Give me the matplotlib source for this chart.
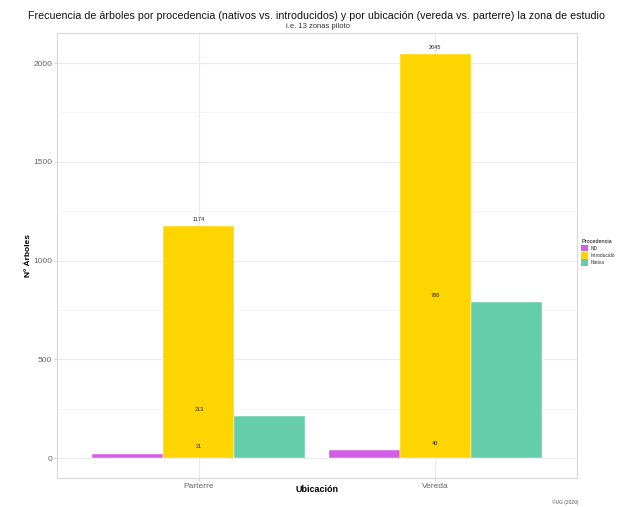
import matplotlib
matplotlib.use("Agg")
import matplotlib.pyplot as plt
from matplotlib.ticker import MultipleLocator
from matplotlib.patches import Patch
import numpy as np

plt.rcParams['font.family'] = ['Liberation Sans', 'DejaVu Sans']

categories = ["Parterre", "Vereda"]
series = ["ND", "Introducido", "Nativa"]
nd = [21, 40]
introducido = [1174, 2045]
nativa = [213, 788]
colors = ["#D35FE6", "#FFD500", "#66CDAA"]

fig = plt.figure(figsize=(6.19, 5.07), dpi=100)
W, H = 619, 507
ax = fig.add_axes([57 / W, (H - 478) / H, (577 - 57) / W, (478 - 33) / H])

x = np.arange(len(categories))
width = 0.3
vals = [nd, introducido, nativa]
for i, (s, v, c) in enumerate(zip(series, vals, colors)):
    ax.bar(x + (i - 1) * width, v, width=width, color=c, edgecolor="white",
           linewidth=0.3, zorder=3, label=s)

# labels at category center
for vs in vals:
    for xi, v in zip(x, vs):
        ax.annotate(str(v), (xi, v), xytext=(0, 5), textcoords="offset points",
                    ha="center", va="center", fontsize=4, color="#222222", zorder=4)

ax.set_xlim(-0.6, 1.6)
ax.set_ylim(-101, 2152)
ax.set_xticks(x)
ax.set_xticklabels(categories)
ax.yaxis.set_major_locator(MultipleLocator(500))
ax.yaxis.set_minor_locator(MultipleLocator(250))
ax.grid(which="major", color="#EBEBEB", linewidth=0.8, zorder=0)
ax.grid(which="minor", axis="y", color="#F3F3F3", linewidth=0.5, zorder=0)
ax.set_axisbelow(True)
for sp in ax.spines.values():
    sp.set_color("#D9D9D9")
    sp.set_linewidth(0.8)
ax.tick_params(which="major", colors="#CCCCCC", labelcolor="#666666", labelsize=6,
               length=2.2, width=0.6, pad=1.2)
ax.tick_params(which="minor", length=0)

ax.set_xlabel("Ubicación", fontsize=6.5, fontweight="bold")
ax.set_ylabel("Nº Árboles", fontsize=6, fontweight="bold")
ax.xaxis.set_label_coords(0.5, -(490 - 478) / 445)
ax.yaxis.set_label_coords(-(57 - 29) / 520, 0.5)
ax.xaxis.label.set_va("center")
ax.yaxis.label.set_va("center")

fig.text(316 / W, 1 - 16 / H,
         "Frecuencia de árboles por procedencia (nativos vs. introducidos) y por ubicación (vereda vs. parterre) la zona de estudio",
         ha="center", va="center", fontsize=7.7, color="#111111")
fig.text(318 / W, 1 - 27 / H, "i.e. 13 zonas piloto", ha="center", va="center",
         fontsize=5.5, color="#333333")
fig.text(578 / W, 1 - 502 / H, "©UG (2020)", ha="right", va="center",
         fontsize=3.5, color="#555555")

handles = [Patch(facecolor=c, edgecolor="none") for c in colors]
leg = fig.legend(handles, series, title="Procedencia", loc="upper left",
                 bbox_to_anchor=(581 / W, 1 - 239 / H), frameon=False,
                 fontsize=3.5, title_fontsize=4, handlelength=1.5, handleheight=1.7,
                 handletextpad=0.4, labelspacing=0.15, borderaxespad=0, borderpad=0)
leg._legend_box.align = "left"
for t in leg.get_texts():
    t.set_color("#333333")

fig.savefig("out.png", dpi=100)
